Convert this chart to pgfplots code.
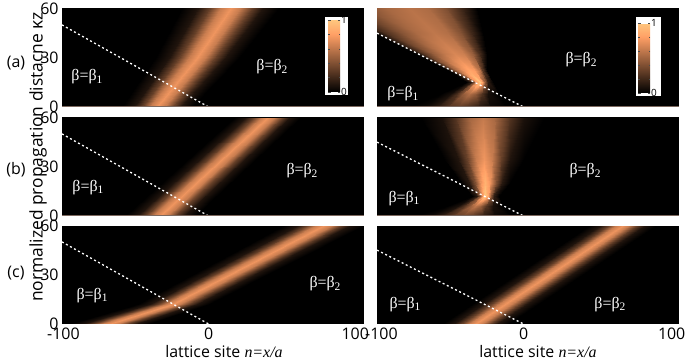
\documentclass[border=0pt]{standalone}
\usepackage{fontspec}
\setmainfont{Open Sans}
\newfontfamily\serif{Liberation Serif}
\usepackage{pgfplots}
\pgfplotsset{compat=1.18}
\definecolor{edgec}{RGB}{125,105,95}
\newcommand\sub[1]{\raisebox{-0.4ex}{\fontsize{11.5}{11.5}\selectfont #1}}
\tikzset{lab/.style={white, font=\serif\fontsize{16}{16}\selectfont, inner sep=0pt},
  edge/.style={draw=edgec, line width=1bp}}
\pgfplotsset{
 colormap={copper}{rgb255(0cm)=(0,0,0) rgb255(8cm)=(255,159,101) rgb255(10cm)=(255,199,127)},
 panel/.style={
   scale only axis, width=302bp, height=98.5bp,
   xmin=-100, xmax=106, ymin=0, ymax=60, enlargelimits=false,
   axis background/.style={fill=black},
   axis line style={draw=none},
   major tick length=0pt, tick style={draw=none},
   xtick=\empty, ytick=\empty,
   point meta min=0, point meta max=1,
   colormap name=copper,
   tick label style={font=\fontsize{16}{16}\selectfont},
   /pgf/number format/assume math mode=true,
 },
 leftp/.style={ytick={0,30,60}, yticklabels={0,30,60}},
 beam/.style={surf, shader=interp, mesh/cols=9, point meta=explicit, draw=none},
 iface/.style={white, line width=1.3bp, dash pattern=on 2bp off 2.6bp},
 cbar/.style={colorbar, colorbar shift/.style={}, colorbar style={at={(parent axis.south east)}, anchor=south west,
   scale only axis, width=12bp, height=#1,
   ytick={0,1}, yticklabels={0,1}, yticklabel pos=right,
   yticklabel style={font=\fontsize{10}{10}\selectfont, inner sep=1pt, black},
   axis line style={draw=none}, tick align=inside,
   major tick length=2.5bp, minor tick length=1.5bp, minor y tick num=4,
   ytick style={draw=black!70, line width=0.4bp}, xtick=\empty}},
}
\begin{document}
\begin{tikzpicture}
\path[use as bounding box] (0,0) rectangle (685bp,360bp);

% ---------------- (a) left
\begin{axis}[panel, leftp, at={(62bp,253bp)}, anchor=south west,
  cbar=72bp, colorbar style={xshift=-36bp, yshift=15bp}]
\addplot[beam] table[meta=c] {
x y c
-59 0 0
-51 0 0.10
-45.4 0 0.32
-39.8 0 0.63
-35 0 0.75
-30.2 0 0.63
-24.6 0 0.32
-19 0 0.10
-11 0 0
-36.5 30 0
-27 30 0.10
-20.4 30 0.32
-13.7 30 0.63
-8 30 0.75
-2.3 30 0.63
4.4 30 0.32
11 30 0.10
20.5 30 0
-18 60 0
-7 60 0.10
0.7 60 0.32
8.4 60 0.63
15 60 0.75
21.6 60 0.63
29.3 60 0.32
37 60 0.10
48 60 0
};
\addplot[iface] coordinates {(-100,50) (0,0)};
\node[lab] at (axis cs:-83,18.4) {β=β\sub{1}};
\node[lab] at (axis cs:43.2,24.5) {β=β\sub{2}};
\fill[white] (axis cs:79.4,7.3) rectangle (axis cs:95.1,55.1);
\draw[edge] (rel axis cs:0,0) -- (rel axis cs:1,0);
\end{axis}

% ---------------- (a) right
\begin{axis}[panel, at={(377bp,253bp)}, anchor=south west,
  cbar=70bp, colorbar style={xshift=-41bp, yshift=14bp}]
\addplot[beam] table[meta=c] {
x y c
-78 0 0
-67 0 0.04
-59.3 0 0.13
-51.6 0 0.25
-45 0 0.30
-38.4 0 0.25
-30.7 0 0.13
-23 0 0.04
-12 0 0
-57 8 0
-50 8 0.07
-45.5 8 0.24
-41 8 0.46
-37 8 0.55
-33 8 0.46
-28.5 8 0.24
-24 8 0.07
-17 8 0
-39 15 0
-36 15 0.135
-33.9 15 0.43
-31.8 15 0.835
-30 15 1
-28.2 15 0.835
-26.1 15 0.43
-24 15 0.135
-21 15 0
};
\addplot[beam] table[meta=c] {
x y c
-39 15 0
-36 15 0.135
-33.9 15 0.43
-31.8 15 0.835
-30 15 1
-28.2 15 0.835
-26.1 15 0.43
-24 15 0.135
-21 15 0
-50 22 0
-47.5 22 0.32
-43.75 22 0.58
-40 22 0.76
-36.25 22 0.84
-33 22 0.79
-30 22 0.58
-27.5 22 0.26
-25 22 0
-73 32 0
-68.2 32 0.26
-61 32 0.47
-53.8 32 0.61
-46.6 32 0.68
-40.4 32 0.64
-34.6 32 0.47
-29.8 32 0.21
-25 32 0
-102 45 0
-94.6 45 0.23
-83.5 45 0.41
-72.4 45 0.54
-61.3 45 0.60
-51.7 45 0.56
-42.8 45 0.41
-35.4 45 0.19
-28 45 0
-135 60 0
-124.7 60 0.22
-109.3 60 0.40
-93.8 60 0.52
-78.4 60 0.58
-65 60 0.54
-52.6 60 0.40
-42.3 60 0.18
-32 60 0
};
\addplot[iface] coordinates {(-100,45) (0,0)};
\node[lab] at (axis cs:-82.3,8) {β=β\sub{1}};
\node[lab] at (axis cs:39.2,28.8) {β=β\sub{2}};
\fill[white] (axis cs:76.7,6.7) rectangle (axis cs:93.7,55.1);
\draw[edge] (rel axis cs:0,0) -- (rel axis cs:1,0);
\end{axis}

% ---------------- (b) left
\begin{axis}[panel, leftp, at={(62bp,144bp)}, anchor=south west]
\addplot[beam] table[meta=c] {
x y c
-57 0 0
-49 0 0.10
-43.4 0 0.32
-37.8 0 0.63
-33 0 0.75
-28.2 0 0.63
-22.6 0 0.32
-17 0 0.10
-9 0 0
17.5 60 0
25 60 0.10
30.25 60 0.32
35.5 60 0.63
40 60 0.75
44.5 60 0.63
49.75 60 0.32
55 60 0.10
62.5 60 0
};
\addplot[iface] coordinates {(-100,50) (0,0)};
\node[lab] at (axis cs:-82.3,17.6) {β=β\sub{1}};
\node[lab] at (axis cs:63.7,27.9) {β=β\sub{2}};
\draw[edge] (rel axis cs:0,0) -- (rel axis cs:1,0);
\end{axis}

% ---------------- (b) right
\begin{axis}[panel, at={(377bp,144bp)}, anchor=south west]
\addplot[beam] table[meta=c] {
x y c
-75 0 0
-64 0 0.047
-56.3 0 0.15
-48.6 0 0.29
-42 0 0.35
-35.4 0 0.29
-27.7 0 0.15
-20 0 0.047
-9 0 0
-52 6 0
-45 6 0.08
-40.5 6 0.26
-36 6 0.50
-33 6 0.60
-30 6 0.50
-25.5 6 0.26
-21 6 0.08
-14 6 0
-35 12 0
-32 12 0.135
-29.9 12 0.43
-27.8 12 0.835
-26 12 1
-24.2 12 0.835
-22.1 12 0.43
-20 12 0.135
-17 12 0
};
\addplot[beam] table[meta=c] {
x y c
-35 12 0
-32 12 0.135
-29.9 12 0.43
-27.8 12 0.835
-26 12 1
-24.2 12 0.835
-22.1 12 0.43
-20 12 0.135
-17 12 0
-42.5 20 0
-37 20 0.12
-33.15 20 0.39
-29.3 20 0.75
-26 20 0.90
-22.7 20 0.75
-18.85 20 0.39
-15 20 0.12
-9.5 20 0
-54 35 0
-45 35 0.10
-38.7 35 0.32
-32.4 35 0.63
-27 35 0.75
-21.6 35 0.63
-15.3 35 0.32
-9 35 0.10
0 35 0
-70 60 0
-56 60 0.084
-46.2 60 0.27
-36.4 60 0.52
-28 60 0.62
-19.6 60 0.52
-9.8 60 0.27
0 60 0.084
14 60 0
};
\addplot[iface] coordinates {(-100,45) (0,0)};
\node[lab] at (axis cs:-81.6,10.9) {β=β\sub{1}};
\node[lab] at (axis cs:41.9,27.9) {β=β\sub{2}};
\draw[edge] (rel axis cs:0,0) -- (rel axis cs:1,0);
\end{axis}

% ---------------- (c) left
\begin{axis}[panel, leftp, at={(62bp,36bp)}, anchor=south west,
  xtick={-99,0,100}, xticklabels={-100,0,100}]
\addplot[beam] table[meta=c] {
x y c
-95 0 0
-86 0 0.10
-79.7 0 0.32
-73.4 0 0.63
-68 0 0.75
-62.6 0 0.63
-56.3 0 0.32
-50 0 0.10
-41 0 0
-48 12 0
-40 12 0.10
-34.4 12 0.32
-28.8 12 0.63
-24 12 0.75
-19.2 12 0.63
-13.6 12 0.32
-8 12 0.10
0 12 0
51 60 0
60 60 0.10
66.3 60 0.32
72.6 60 0.63
78 60 0.75
83.4 60 0.63
89.7 60 0.32
96 60 0.10
105 60 0
};
\addplot[iface] coordinates {(-100,50) (0,0)};
\node[lab] at (axis cs:-79.5,17.6) {β=β\sub{1}};
\node[lab] at (axis cs:79.4,24.8) {β=β\sub{2}};
\draw[edge] (rel axis cs:0,0) -- (rel axis cs:1,0);
\end{axis}

% ---------------- (c) right
\begin{axis}[panel, at={(377bp,36bp)}, anchor=south west,
  xtick={-97,0,101}, xticklabels={-100,0,100}]
\addplot[beam] table[meta=c] {
x y c
-55.5 0 0
-48 0 0.10
-42.75 0 0.32
-37.5 0 0.63
-33 0 0.75
-28.5 0 0.63
-23.25 0 0.32
-18 0 0.10
-10.5 0 0
44.5 60 0
52 60 0.10
57.25 60 0.32
62.5 60 0.63
67 60 0.75
71.5 60 0.63
76.75 60 0.32
82 60 0.10
89.5 60 0
};
\addplot[iface] coordinates {(-100,45) (0,0)};
\node[lab] at (axis cs:-80.9,12.1) {β=β\sub{1}};
\node[lab] at (axis cs:58.9,12.1) {β=β\sub{2}};
\draw[edge] (rel axis cs:0,0) -- (rel axis cs:1,0);
\end{axis}

% ---------------- labels
\node[rotate=90, font=\fontsize{17.5}{17.5}\selectfont] at (38bp,203bp) {normalized propagation distacne κz};
\node[font=\fontsize{16}{16}\selectfont] at (16bp,297bp) {(a)};
\node[font=\fontsize{16}{16}\selectfont] at (16bp,190bp) {(b)};
\node[font=\fontsize{16}{16}\selectfont] at (16bp,87bp) {(c)};
\node[anchor=base, font=\fontsize{16}{16}\selectfont] at (224bp,2.5bp) {lattice site {\serif\itshape n=x/a}};
\node[anchor=base, font=\fontsize{16}{16}\selectfont] at (538bp,2.5bp) {lattice site {\serif\itshape n=x/a}};
\end{tikzpicture}
\end{document}
